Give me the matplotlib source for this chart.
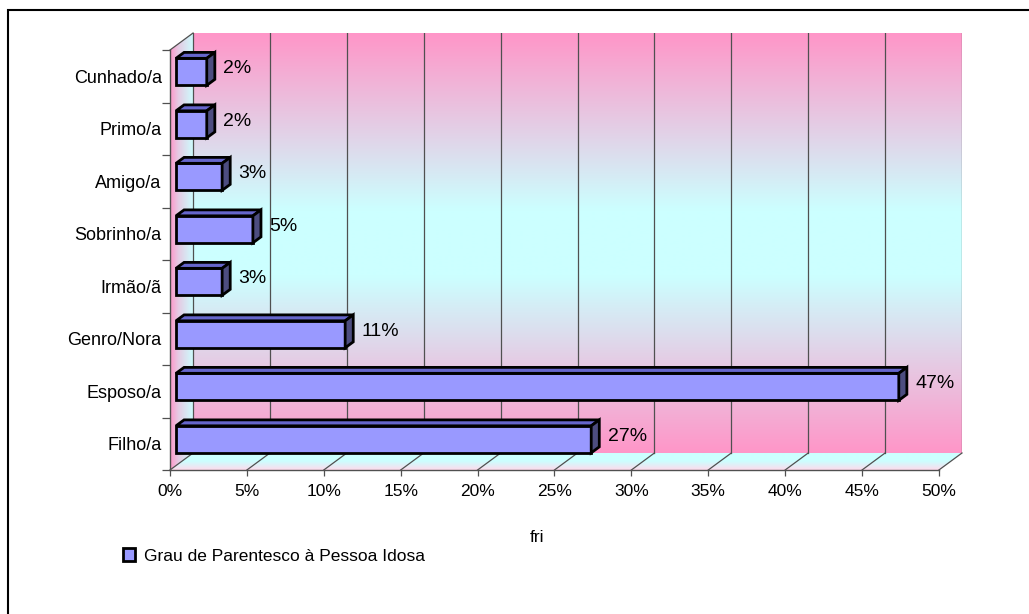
import numpy as np
import matplotlib
matplotlib.use("Agg")
import matplotlib.pyplot as plt
from matplotlib.patches import Polygon, Rectangle, Patch
from matplotlib.colors import to_rgb

plt.rcParams['font.family'] = ['Liberation Sans', 'DejaVu Sans']

# dados: grau de parentesco do cuidador
categorias = ["Filho/a", "Esposo/a", "Genro/Nora", "Irmão/ã",
              "Sobrinho/a", "Amigo/a", "Primo/a", "Cunhado/a"]
percentuais = [27, 47, 11, 3, 5, 3, 2, 2]
ticks_x = [0, 5, 10, 15, 20, 25, 30, 35, 40, 45, 50]
serie = "Grau de Parentesco à Pessoa Idosa"

# efeito 3D (deslocamento da parede do fundo)
PX = 1.5     # em % no eixo x
PY = 0.324   # em categorias no eixo y
FRENTE = 0.26   # posição da face frontal da barra na profundidade
FUNDO = 0.35    # espessura da barra
ALT = 0.514     # altura da barra

rosa = np.array(to_rgb("#FF96C8"))
ciano = np.array(to_rgb("#CCFFFF"))
n_cat = len(categorias)
xmax = ticks_x[-1]

fig = plt.figure(figsize=(10.29, 6.14), dpi=100)
ax = fig.add_axes([170 / 1029, 144 / 614, 792 / 1029, 437 / 614])


def gradiente(pontos, n=256):
    # pontos: lista de (posição, cor)
    t = np.linspace(0, 1, n)
    pos = [p for p, _ in pontos]
    cores = np.array([c for _, c in pontos])
    return np.stack([np.interp(t, pos, cores[:, k]) for k in range(3)], axis=-1)


# parede do fundo
g = gradiente([(0, rosa), (0.42, ciano), (0.58, ciano), (1, rosa)])
ax.imshow(g[:, None, :], extent=[PX, xmax + PX, -0.5 + PY, n_cat - 0.5 + PY],
          origin="lower", aspect="auto", zorder=0, interpolation="bilinear")

# parede lateral
g = gradiente([(0, rosa), (0.35, rosa * 0.5 + ciano * 0.5), (1, ciano)])
im = ax.imshow(g[None, :, :], extent=[0, PX, -0.5, n_cat - 0.5 + PY],
               aspect="auto", zorder=0, interpolation="bilinear")
lado = Polygon([(0, -0.5), (PX, -0.5 + PY), (PX, n_cat - 0.5 + PY), (0, n_cat - 0.5)],
               transform=ax.transData)
im.set_clip_path(lado)

# piso
g = gradiente([(0, rosa * 0.35 + 0.65), (0.5, ciano), (1, ciano)])
im = ax.imshow(g[:, None, :], extent=[0, xmax + PX, -0.5, -0.5 + PY],
               origin="lower", aspect="auto", zorder=0, interpolation="bilinear")
piso = Polygon([(0, -0.5), (xmax, -0.5), (xmax + PX, -0.5 + PY), (PX, -0.5 + PY)],
               transform=ax.transData)
im.set_clip_path(piso)

# linhas de grade
cinza = "#505050"
for xv in ticks_x:
    ax.plot([xv + PX, xv + PX], [-0.5 + PY, n_cat - 0.5 + PY], color=cinza, lw=0.9, zorder=1)
    ax.plot([xv, xv + PX], [-0.5, -0.5 + PY], color=cinza, lw=0.9, zorder=1, clip_on=False)
ax.plot([0, PX], [n_cat - 0.5, n_cat - 0.5 + PY], color=cinza, lw=0.9, zorder=1, clip_on=False)
ax.plot([0, 0], [-0.5, n_cat - 0.5], color=cinza, lw=1.0, zorder=1, clip_on=False)
ax.plot([0, xmax], [-0.5, -0.5], color=cinza, lw=1.0, zorder=1, clip_on=False)

# barras
y = np.arange(n_cat)
x0 = FRENTE * PX
yb = y + FRENTE * PY
ax.barh(yb, percentuais, left=x0, height=ALT, color="#9999FF",
        edgecolor="black", linewidth=2, zorder=3)
dx, dy = FUNDO * PX, FUNDO * PY
for yi, v in zip(yb, percentuais):
    base, topo = yi - ALT / 2, yi + ALT / 2
    ax.add_patch(Polygon([(x0, topo), (x0 + v, topo), (x0 + v + dx, topo + dy),
                          (x0 + dx, topo + dy)], closed=True, facecolor="#6666CC",
                         edgecolor="black", lw=2, joinstyle="miter", zorder=3))
    ax.add_patch(Polygon([(x0 + v, base), (x0 + v, topo), (x0 + v + dx, topo + dy),
                          (x0 + v + dx, base + dy)], closed=True, facecolor="#4D4D80",
                         edgecolor="black", lw=2, joinstyle="miter", zorder=3))
    ax.annotate(f"{v}%", (x0 + v + dx, yi + dy / 2), xytext=(6, 0),
                textcoords="offset points", ha="left", va="center", fontsize=14, zorder=4)

ax.set_xlim(0, xmax + PX)
ax.set_ylim(-0.5, n_cat - 0.5 + PY)
for s in ax.spines.values():
    s.set_visible(False)

ax.set_xticks(ticks_x)
ax.set_xticklabels([f"{t}%" for t in ticks_x], fontsize=12.5)
ax.tick_params(axis="x", direction="out", length=4.3, width=0.9, color=cinza, pad=6)
ax.set_yticks(np.arange(-0.5, n_cat, 1))
ax.set_yticklabels([])
ax.tick_params(axis="y", which="major", direction="out", length=5.5, width=0.9, color=cinza)
ax.set_yticks(y, minor=True)
ax.set_yticklabels(categorias, minor=True, fontsize=13)
ax.tick_params(axis="y", which="minor", length=0, pad=6)

fig.text(537 / 1029, 1 - 537 / 614, "fri", ha="center", va="center", fontsize=12.5)

ax.legend(handles=[Patch(facecolor="#9999FF", edgecolor="black", lw=2, label=serie)],
          loc="center left", bbox_to_anchor=(123 / 1029, 1 - 556 / 614),
          bbox_transform=fig.transFigure, frameon=False, fontsize=12.5,
          handlelength=0.7, handleheight=0.7, handletextpad=0.5, borderpad=0,
          borderaxespad=0)

# moldura da área do gráfico
fig.patches.append(Rectangle((8 / 1029, -0.2), 1.2, 1.2 - 10 / 614, fill=False,
                             edgecolor="black", lw=1.5, transform=fig.transFigure))

fig.savefig("out.png", dpi=100)
